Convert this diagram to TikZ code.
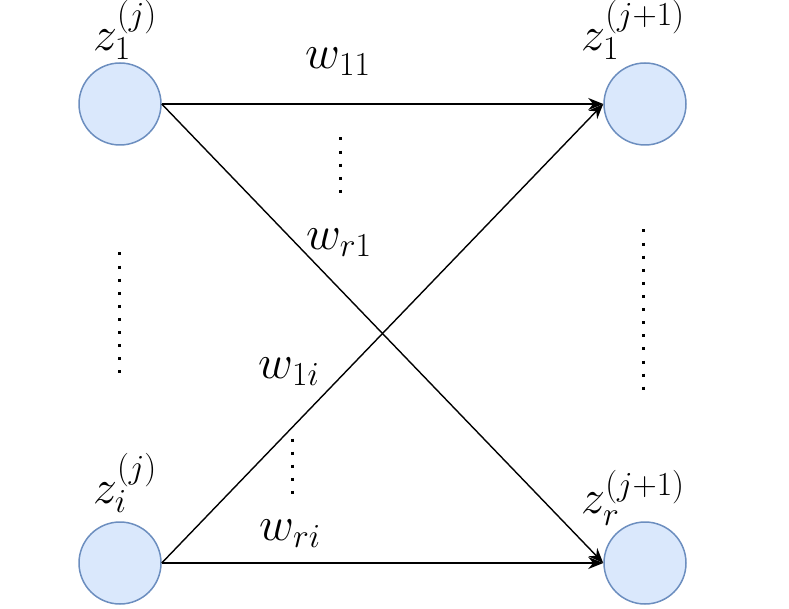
\RequirePackage{fix-cm}
\documentclass[tikz,border=0pt]{standalone}
\usepackage{amsmath}
\usepackage{xcolor}
\usetikzlibrary{arrows.meta}
\definecolor{unitfill}{HTML}{DAE8FC}
\definecolor{unitdraw}{HTML}{6C8EBF}

\begin{document}
\begin{tikzpicture}[x=1pt,y=-1pt,
    every node/.style={font=\fontsize{48}{52}\selectfont},
    unit/.style={circle,fill=unitfill,draw=unitdraw,line width=1.5pt,minimum size=82pt,inner sep=0pt},
    weight/.style={-{Stealth[length=15pt,width=12pt]},line width=1.4pt},
    dotline/.style={line width=3pt,dash pattern=on 3pt off 10.1pt}]
  \useasboundingbox (0,0) rectangle (789,609);
  \node[unit] (a1) at (120,104){};
  \node[unit] (ai) at (120,563){};
  \node[unit] (b1) at (645,104){};
  \node[unit] (br) at (645,563){};
  \node (la1) at (125,30){$z_1^{(j)}$};
  \node (lai) at (125,483){$z_i^{(j)}$};
  \node (lb1) at (633,30){$z_1^{(j+1)}$};
  \node (lbr) at (633,498){$z_r^{(j+1)}$};
  \draw[weight] (a1.east) -- (b1.west);
  \draw[weight] (a1.east) -- (br.west);
  \draw[weight] (ai.east) -- (b1.west);
  \draw[weight] (ai.east) -- (br.west);
  \node (w11) at (338,62){$w_{11}$};
  \node (wr1) at (339,243){$w_{r1}$};
  \node (w1i) at (289,372){$w_{1i}$};
  \node (wri) at (290,534){$w_{ri}$};
  \draw[dotline] (119,252.5) -- (119,374);
  \draw[dotline] (340,137.5) -- (340,194);
  \draw[dotline] (292,438.5) -- (292,496);
  \draw[dotline] (643,229.5) -- (643,390);
\end{tikzpicture}
\end{document}
